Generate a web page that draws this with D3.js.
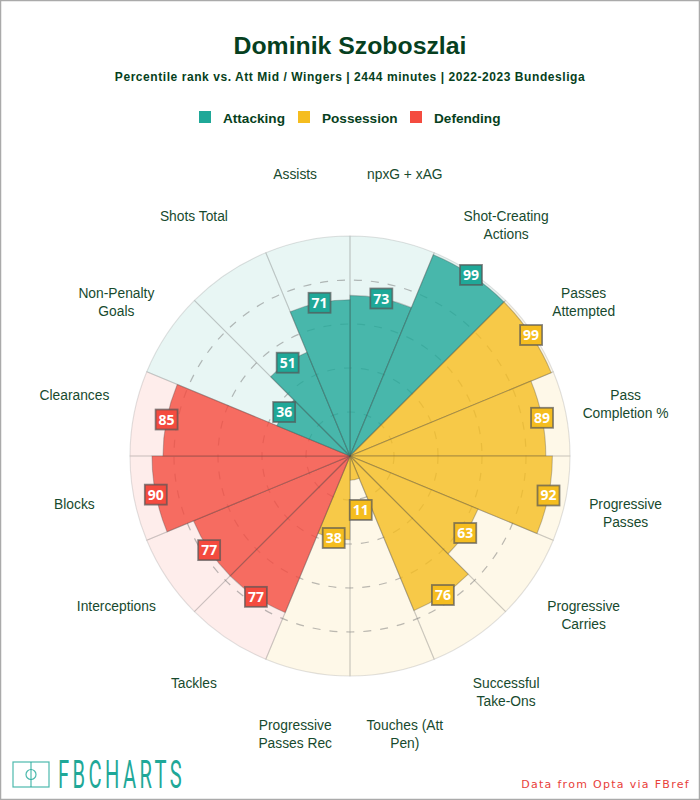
<!DOCTYPE html>
<html><head><meta charset="utf-8">
<script src="https://cdn.jsdelivr.net/npm/d3@7"></script>
<style>html,body{margin:0;padding:0;background:#fff}svg{display:block}</style>
</head><body><div id="c"></div>
<script>
const metrics = [["npxG + xAG"],["Shot-Creating","Actions"],["Passes","Attempted"],["Pass","Completion %"],["Progressive","Passes"],["Progressive","Carries"],["Successful","Take-Ons"],["Touches (Att","Pen)"],["Progressive","Passes Rec"],["Tackles"],["Interceptions"],["Blocks"],["Clearances"],["Non-Penalty","Goals"],["Shots Total"],["Assists"]];
const values = [73,99,99,89,92,63,76,11,38,77,77,90,85,36,51,71];
const groups = [0,0,1,1,1,1,1,1,1,2,2,2,2,0,0,0];
const groupNames = ["Attacking","Possession","Defending"];
const groupColors = ["#1fa898","#f5bd1f","#f44b3f"];
const ringValues = [20,40,60,80];
const title = "Dominik Szoboszlai";
const subtitle = "Percentile rank vs. Att Mid / Wingers | 2444 minutes | 2022-2023 Bundesliga";
const ink = "#063f20";
const W=700,H=800,cx=350,cy=456;
const svg=d3.select("#c").append("svg").attr("width",W).attr("height",H);
svg.append("rect").attr("x",0.5).attr("y",0.5).attr("width",W-1).attr("height",H-1).attr("fill","#fff").attr("stroke","#aaa").attr("stroke-width",1.5);
const sans="'Liberation Sans',Arial,sans-serif";
svg.append("text").attr("x",350).attr("y",54).attr("text-anchor","middle").attr("font-family",sans).attr("font-weight",700).attr("font-size",24.8).attr("fill",ink).text(title);
svg.append("text").attr("x",350).attr("y",81).attr("text-anchor","middle").attr("font-family",sans).attr("font-weight",700).attr("font-size",12).attr("letter-spacing",0.56).attr("fill",ink).text(subtitle);
const legendX=[199,298,410],legendT=[223,322,434];
groupNames.forEach((n,i)=>{
  svg.append("rect").attr("x",legendX[i]).attr("y",111).attr("width",12).attr("height",12).attr("fill",groupColors[i]);
  svg.append("text").attr("x",legendT[i]).attr("y",123).attr("font-family",sans).attr("font-weight",700).attr("font-size",13.6).attr("fill",ink).text(n);
});
const r=d3.scaleLinear().domain([0,100]).range([0,220]);
const a=d3.scaleBand().domain(d3.range(values.length)).range([0,2*Math.PI]);
const g=svg.append("g").attr("transform",`translate(${cx},${cy})`);
const arc=d3.arc().innerRadius(0).startAngle(i=>a(i)).endAngle(i=>a(i)+a.bandwidth());
g.selectAll(".bg").data(d3.range(values.length)).join("path").attr("class","bg")
 .attr("d",i=>arc.outerRadius(r(100))(i)).attr("fill",i=>groupColors[groups[i]]).attr("fill-opacity",0.1).attr("stroke","#888").attr("stroke-opacity",0.25).attr("stroke-width",1.1);
g.selectAll(".ring").data(ringValues).join("circle").attr("class","ring").attr("r",d=>r(d)).attr("fill","none").attr("stroke","#777").attr("stroke-opacity",0.5).attr("stroke-width",1.2).attr("stroke-dasharray","8 9");
g.selectAll(".v").data(d3.range(values.length)).join("path").attr("class","v")
 .attr("d",i=>arc.outerRadius(r(values[i]))(i)).attr("fill",i=>groupColors[groups[i]]).attr("fill-opacity",0.8).attr("stroke","#444").attr("stroke-opacity",0.3).attr("stroke-width",1.1);
const mid=i=>a(i)+a.bandwidth()/2;
const lab=g.selectAll(".lab").data(d3.range(values.length)).join("text").attr("class","lab").attr("text-anchor","middle").attr("font-family",sans).attr("font-size",13.8).attr("fill","#174a2e");
lab.each(function(i){
  const x=281*Math.sin(mid(i)),y=-281*Math.cos(mid(i));
  d3.select(this).selectAll("tspan").data(metrics[i]).join("tspan").attr("x",x).attr("y",(d,k)=>y-1.5+k*18).text(d=>d);
});
const pos=i=>{const rr=r(Math.max(values[i],25));return [rr*Math.sin(mid(i)),-rr*Math.cos(mid(i))];};
g.selectAll(".box").data(d3.range(values.length)).join("rect").attr("class","box").attr("x",i=>pos(i)[0]-11).attr("y",i=>pos(i)[1]-10).attr("width",22).attr("height",20).attr("fill",i=>groupColors[groups[i]]).attr("stroke","#555").attr("stroke-opacity",0.7).attr("stroke-width",1.8);
g.selectAll(".num").data(d3.range(values.length)).join("text").attr("class","num").attr("x",i=>pos(i)[0]).attr("y",i=>pos(i)[1]+5).attr("text-anchor","middle").attr("font-family","'Open Sans',sans-serif").attr("font-weight",700).attr("font-size",14).attr("fill","#fff").text(i=>values[i]);
// logo
const logo=svg.append("g").attr("fill","none").attr("stroke","#1fa898").attr("stroke-opacity",0.8).attr("stroke-width",1.2);
logo.append("rect").attr("x",13).attr("y",762).attr("width",36).attr("height",25);
logo.append("line").attr("x1",31).attr("x2",31).attr("y1",762).attr("y2",787);
logo.append("circle").attr("cx",31).attr("cy",774.5).attr("r",5);
svg.append("text").attr("transform","translate(58,788) scale(0.53,1)").attr("font-family","'Roboto',sans-serif").attr("font-weight",400).attr("font-size",38).attr("letter-spacing",6.4).attr("fill","#1fa898").text("FBCHARTS");
svg.append("text").attr("x",690).attr("y",788).attr("text-anchor","end").attr("font-family","'DejaVu Sans',sans-serif").attr("font-size",11).attr("letter-spacing",1.3).attr("fill","#e8403a").text("Data from Opta via FBref");
</script></body></html>
